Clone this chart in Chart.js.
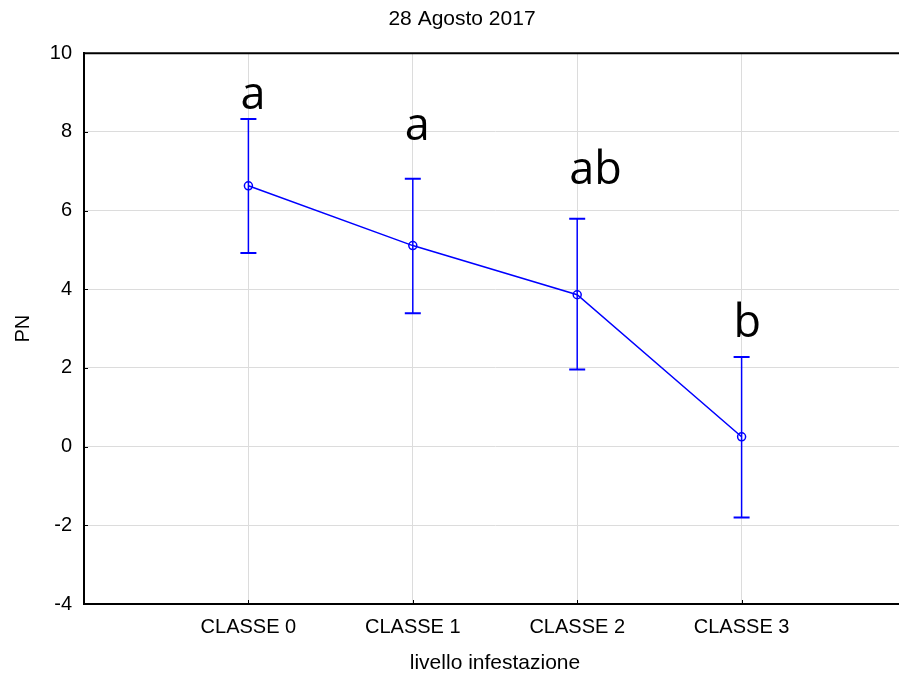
<!DOCTYPE html>
<html>
<head>
<meta charset="utf-8">
<script src="https://cdn.jsdelivr.net/npm/chart.js@4"></script>
<style>
  html, body { margin: 0; padding: 0; background: #fff; overflow: hidden; }
  #wrap { width: 924px; height: 677px; }
</style>
</head>
<body>
<div id="wrap"><canvas id="c" width="924" height="677"></canvas></div>
<script>
// ---- data ----
const categories = ['CLASSE 0', 'CLASSE 1', 'CLASSE 2', 'CLASSE 3'];
const means = [6.63, 5.11, 3.86, 0.25];
const upperErr = [8.33, 6.81, 5.79, 2.28];
const lowerErr = [4.92, 3.39, 1.96, -1.80];
const groupLetters = ['a', 'a', 'ab', 'b'];
const letterY = [8.58, 7.79, 6.67, 2.79];
const yTicks = [-4, -2, 0, 2, 4, 6, 8, 10];
const chartTitle = '28 Agosto 2017';
const xTitle = 'livello infestazione';
const yTitle = 'PN';

const BLUE = '#0000ff';
const FONT = 'Liberation Sans, Arial, sans-serif';

const extrasPlugin = {
  id: 'extras',
  beforeDatasetsDraw(chart) {
    const ctx = chart.ctx;
    const xs = chart.scales.x, ys = chart.scales.y;
    ctx.save();
    ctx.strokeStyle = BLUE;
    for (let i = 0; i < means.length; i++) {
      const px = xs.getPixelForValue(i);
      const pu = ys.getPixelForValue(upperErr[i]);
      const pl = ys.getPixelForValue(lowerErr[i]);
      ctx.lineWidth = 1.5;
      ctx.beginPath();
      ctx.moveTo(px, pu); ctx.lineTo(px, pl);
      ctx.stroke();
      ctx.lineWidth = 2;
      ctx.beginPath();
      ctx.moveTo(px - 8, pu); ctx.lineTo(px + 8, pu);
      ctx.moveTo(px - 8, pl); ctx.lineTo(px + 8, pl);
      ctx.stroke();
    }
    ctx.restore();
  },
  afterDraw(chart) {
    const ctx = chart.ctx;
    const xs = chart.scales.x, ys = chart.scales.y;
    const a = chart.chartArea;
    ctx.save();
    // top frame line
    ctx.strokeStyle = '#000';
    ctx.lineWidth = 2;
    ctx.beginPath();
    ctx.moveTo(a.left - 1, a.top); ctx.lineTo(a.right, a.top);
    ctx.stroke();
    // inward tick marks
    ctx.lineWidth = 1;
    ctx.beginPath();
    ys.ticks.forEach(t => {
      const py = Math.round(ys.getPixelForValue(t.value)) + 0.5;
      ctx.moveTo(a.left, py); ctx.lineTo(a.left + 4, py);
    });
    xs.ticks.forEach(t => {
      const px = Math.round(xs.getPixelForValue(t.value)) + 0.5;
      ctx.moveTo(px, a.bottom); ctx.lineTo(px, a.bottom - 4);
    });
    ctx.stroke();
    // group letters
    ctx.fillStyle = '#000';
    ctx.font = '45px "Open Sans", sans-serif';
    ctx.textAlign = 'left';
    ctx.textBaseline = 'alphabetic';
    for (let i = 0; i < groupLetters.length; i++) {
      const px = xs.getPixelForValue(i);
      const py = ys.getPixelForValue(letterY[i]);
      ctx.fillText(groupLetters[i], px - 8, py);
    }
    ctx.restore();
  }
};

new Chart(document.getElementById('c'), {
  type: 'line',
  data: {
    datasets: [{
      data: means.map((m, i) => ({ x: i, y: m })),
      borderColor: BLUE,
      borderWidth: 1.5,
      pointRadius: 4,
      pointBorderWidth: 1.5,
      pointBorderColor: BLUE,
      pointBackgroundColor: 'rgba(0,0,0,0)',
      tension: 0,
      fill: false
    }]
  },
  options: {
    responsive: false,
    animation: false,
    layout: { padding: 0 },
    plugins: {
      legend: { display: false },
      tooltip: { enabled: false },
      title: {
        display: true,
        text: chartTitle,
        color: '#000',
        font: { family: FONT, size: 21, weight: 'normal' },
        padding: { top: 7, bottom: 21 }
      }
    },
    scales: {
      x: {
        type: 'linear',
        min: -1,
        max: 4,
        afterBuildTicks: s => { s.ticks = categories.map((c, i) => ({ value: i })); },
        afterFit: s => { s.height = 73; s.paddingLeft = 0; s.paddingRight = 0; },
        ticks: {
          callback: v => categories[v] ?? '',
          color: '#000',
          padding: 11,
          maxRotation: 0,
          autoSkip: false,
          font: { family: FONT, size: 20 }
        },
        grid: { color: '#dcdcdc', lineWidth: 1, drawTicks: false },
        border: { display: true, color: '#000', width: 2 },
        title: {
          display: true,
          text: xTitle,
          color: '#000',
          font: { family: FONT, size: 21 },
          padding: { top: 0, bottom: 1 }
        }
      },
      y: {
        min: -4,
        max: 10,
        afterBuildTicks: s => { s.ticks = yTicks.map(v => ({ value: v })); },
        afterFit: s => { s.width = 84; },
        ticks: {
          color: '#000',
          padding: 12,
          font: { family: FONT, size: 20 }
        },
        grid: { color: '#dcdcdc', lineWidth: 1, drawTicks: false },
        border: { display: true, color: '#000', width: 2 },
        title: {
          display: true,
          text: yTitle,
          color: '#000',
          font: { family: FONT, size: 20 },
          padding: { top: 11, bottom: 0 }
        }
      },
      yRight: {
        position: 'right',
        min: -4,
        max: 10,
        ticks: { display: false },
        grid: { display: false, drawTicks: false },
        border: { display: false },
        afterFit: s => { s.width = 18; }
      }
    }
  },
  plugins: [extrasPlugin]
});
</script>
</body>
</html>
